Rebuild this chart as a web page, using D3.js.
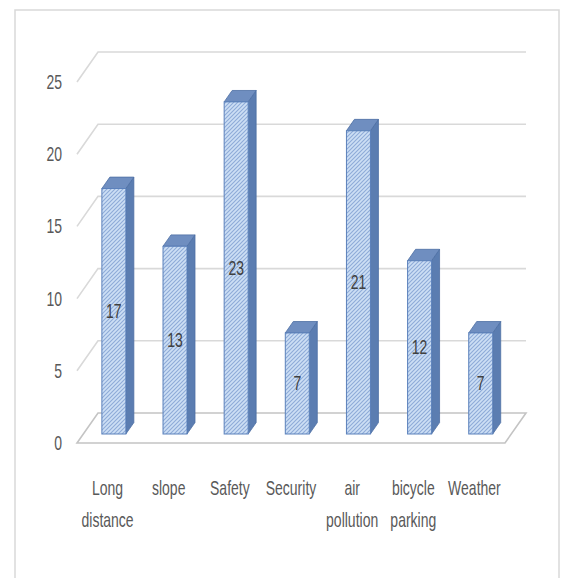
<!DOCTYPE html>
<html>
<head>
<meta charset="utf-8">
<script src="https://cdn.jsdelivr.net/npm/d3@7"></script>
<style>
  html, body { margin: 0; padding: 0; background: #fff; }
  svg { display: block; }
  text { font-family: "Liberation Sans", Arial, sans-serif; }
</style>
</head>
<body>
<svg id="chart" width="561" height="578"></svg>
<script>
// Reasons cited against cycling (counts)
const categories = ["Long distance", "slope", "Safety", "Security", "air pollution", "bicycle parking", "Weather"];
const categoryLines = [["Long", "distance"], ["slope"], ["Safety"], ["Security"], ["air", "pollution"], ["bicycle", "parking"], ["Weather"]];
const values = [17, 13, 23, 7, 21, 12, 7];
const yTicks = [0, 5, 10, 15, 20, 25];

const svg = d3.select("#chart");

// Oblique 3D projection: front plane + depth offset
const depthX = 21, depthY = 30;
const frontLeft = 77, frontRight = 505, frontBase = 443;
const squeeze = 0.7; // narrow label glyphs

const y = d3.scaleLinear().domain([0, 25]).range([frontBase, frontBase - 25 * 14.44]);
const x = d3.scaleBand().domain(categories).range([frontLeft, frontRight]);

// projection of (screen x, screen y on front plane, depth fraction)
const P = (px, py, f) => [px + f * depthX, py - f * depthY];

// outer frame
svg.append("rect")
  .attr("x", 15).attr("y", 10).attr("width", 544).attr("height", 580)
  .attr("fill", "none").attr("stroke", "#d9d9d9").attr("stroke-width", 1.5);

// hatch pattern for bar fronts
const defs = svg.append("defs");
const pat = defs.append("pattern")
  .attr("id", "hatch").attr("patternUnits", "userSpaceOnUse")
  .attr("width", 4).attr("height", 4);
pat.append("rect").attr("width", 4).attr("height", 4).attr("fill", "#cddff5");
pat.append("path").attr("d", "M-1,1 l2,-2 M0,4 l4,-4 M3,5 l2,-2")
  .attr("stroke", "#8eabd8").attr("stroke-width", 1.1);

// gridlines: side-wall diagonal + back wall horizontal
const grid = svg.append("g").attr("fill", "none").attr("stroke", "#d9d9d9").attr("stroke-width", 1.6);
yTicks.filter(t => t > 0).forEach(t => {
  const a = [frontLeft, y(t)];
  const b = P(frontLeft, y(t), 1);
  const c = P(frontRight, y(t), 1);
  grid.append("path").attr("d", d3.line()([a, b, c]));
});

// floor
const floorPts = [
  [frontLeft, frontBase], P(frontLeft, frontBase, 1),
  P(frontRight, frontBase, 1), [frontRight, frontBase]
];
svg.append("path")
  .attr("d", d3.line()(floorPts) + "Z")
  .attr("fill", "#fff").attr("stroke", "#c4c4c4").attr("stroke-width", 1.6);

// y axis labels on the front plane
const yAxis = svg.append("g")
  .attr("transform", `translate(${frontLeft},0)`)
  .call(d3.axisLeft(y).tickValues(yTicks).tickSize(0).tickPadding(15));
yAxis.select(".domain").remove();
yAxis.selectAll("text")
  .attr("x", -15 / squeeze)
  .attr("transform", `scale(${squeeze},1)`)
  .attr("fill", "#595959").attr("font-size", 20)
  .style("font-family", "'Liberation Sans', Arial, sans-serif");

// bars
const f0 = 0.3, f1 = 0.68;
const barW = 24;
const bars = svg.append("g");
categories.forEach((c, i) => {
  const v = values[i];
  const cx = x(c) + x.bandwidth() / 2;
  const xl = cx - barW / 2, xr = cx + barW / 2;
  const [fl, ft] = P(xl, y(v), f0);
  const [fr] = P(xr, y(v), f0);
  const [, fb] = P(xl, y(0), f0);
  const ddx = (f1 - f0) * depthX, ddy = (f1 - f0) * depthY;
  const g = bars.append("g");
  // right side face
  g.append("path")
    .attr("d", d3.line()([[fr, ft], [fr + ddx, ft - ddy], [fr + ddx, fb - ddy], [fr, fb]]) + "Z")
    .attr("fill", "#5b7db1").attr("stroke", "#4d6fa3").attr("stroke-width", 0.8);
  // top face
  g.append("path")
    .attr("d", d3.line()([[fl, ft], [fl + ddx, ft - ddy], [fr + ddx, ft - ddy], [fr, ft]]) + "Z")
    .attr("fill", "#6f8ec0").attr("stroke", "#4d6fa3").attr("stroke-width", 0.8);
  // front face
  g.append("rect")
    .attr("x", fl).attr("y", ft).attr("width", fr - fl).attr("height", fb - ft)
    .attr("fill", "url(#hatch)").attr("stroke", "#5b81bb").attr("stroke-width", 1);
  // value label
  g.append("text")
    .attr("transform", `translate(${(fl + fr) / 2},${(ft + fb) / 2}) scale(${squeeze},1)`)
    .attr("text-anchor", "middle").attr("dominant-baseline", "central")
    .attr("font-size", 20).attr("fill", "#404040")
    .text(v);
});

// category labels
const catG = svg.append("g");
categories.forEach((c, i) => {
  const cx = x(c) + x.bandwidth() / 2;
  categoryLines[i].forEach((line, j) => {
    catG.append("text")
      .attr("transform", `translate(${cx},${495 + j * 32}) scale(${squeeze},1)`)
      .attr("text-anchor", "middle")
      .attr("font-size", 20).attr("fill", "#595959")
      .text(line);
  });
});
</script>
</body>
</html>
